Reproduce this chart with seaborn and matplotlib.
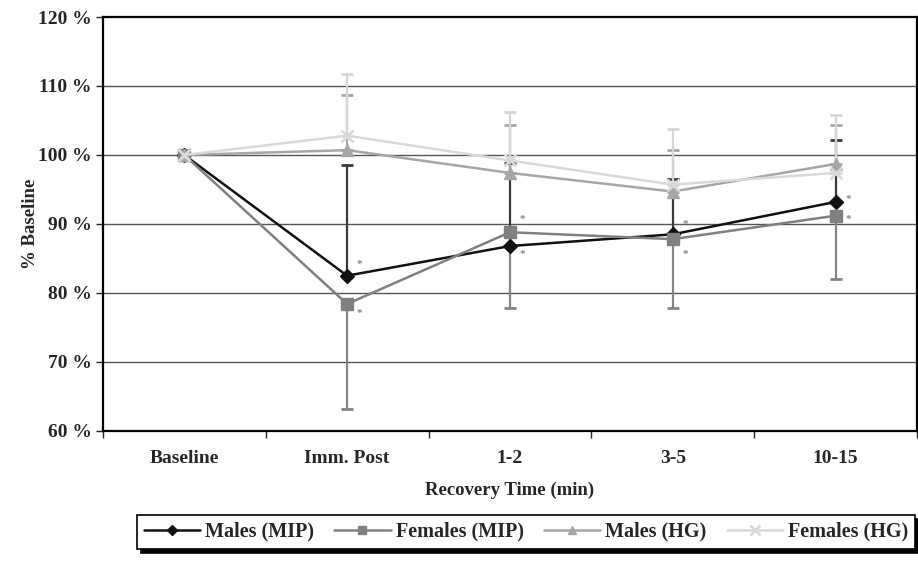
import numpy as np
import pandas as pd
import seaborn as sns
import matplotlib.pyplot as plt

categories = ["Baseline", "Imm. Post", "1-2", "3-5", "10-15"]

males_mip = [100, 82.5, 86.8, 88.5, 93.2]
males_mip_upper = [100, 98.5, 98.8, 96.5, 102.2]
females_mip = [100, 78.4, 88.8, 87.8, 91.2]
females_mip_lower = [100, 63.2, 77.8, 77.8, 82.0]
males_hg = [100, 100.7, 97.4, 94.7, 98.7]
males_hg_upper = [100, 108.7, 104.4, 100.7, 104.4]
females_hg = [100, 102.8, 99.2, 95.7, 97.4]
females_hg_upper = [100, 111.7, 106.2, 103.7, 105.8]

series_names = ["Males (MIP)", "Females (MIP)", "Males (HG)", "Females (HG)"]
ytick_vals = [60, 70, 80, 90, 100, 110, 120]

sns.set_style("white")
plt.rcParams['font.family'] = ['Liberation Serif', 'DejaVu Serif']
plt.rcParams['font.weight'] = 'bold'

fig = plt.figure(figsize=(9.18, 5.67), dpi=100)
ax = fig.add_axes([0.112, 0.240, 0.887, 0.730])

x = np.arange(len(categories))

# gridlines
for v in ytick_vals[1:-1]:
    ax.axhline(v, color="#555555", lw=1.0, zorder=0)

# one sided error bars, like the original
def err_up(vals, upper):
    return [np.zeros(len(vals) - 1), np.array(upper[1:]) - np.array(vals[1:])]

def err_down(vals, lower):
    return [np.array(vals[1:]) - np.array(lower[1:]), np.zeros(len(vals) - 1)]

eb = dict(fmt="none", elinewidth=1.6, capsize=4.5, capthick=2, zorder=2)
ax.errorbar(x[1:], males_mip[1:], yerr=err_up(males_mip, males_mip_upper), ecolor="#3a3a3a", **eb)
ax.errorbar(x[1:], females_mip[1:], yerr=err_down(females_mip, females_mip_lower), ecolor="#858585", **eb)
ax.errorbar(x[1:], males_hg[1:], yerr=err_up(males_hg, males_hg_upper), ecolor="#a8a8a8", **eb)
ax.errorbar(x[1:], females_hg[1:], yerr=err_up(females_hg, females_hg_upper), ecolor="#d6d6d6", **eb)

df = pd.DataFrame({
    "time": categories * 4,
    "x": list(x) * 4,
    "value": males_mip + females_mip + males_hg + females_hg,
    "series": np.repeat(series_names, len(categories)),
})

styles = {
    "Males (MIP)": dict(color="#111111", marker="D", ms=7),
    "Females (MIP)": dict(color="#808080", marker="s", ms=8),
    "Males (HG)": dict(color="#a6a6a6", marker="^", ms=8),
    "Females (HG)": dict(color="#d9d9d9", marker="x", ms=9),
}

for i, name in enumerate(series_names):
    st = styles[name]
    sub = df[df["series"] == name]
    sns.lineplot(data=sub, x="x", y="value", ax=ax, color=st["color"], lw=1.8,
                 marker=st["marker"], markersize=st["ms"], markeredgecolor=st["color"],
                 markerfacecolor=st["color"], markeredgewidth=2 if st["marker"] == "x" else 1,
                 label=name, zorder=3 + i)

# significance asterisks (index, value, y offset in points)
stars = [
    (1, males_mip[1], 8), (1, females_mip[1], -7),
    (2, females_mip[2], 9), (2, males_mip[2], -6),
    (3, males_mip[3], 7), (3, females_mip[3], -11),
    (4, males_mip[4], 2), (4, females_mip[4], -3),
]
for i, v, dy in stars:
    ax.annotate("*", (x[i], v), xytext=(9, dy), textcoords="offset points",
                ha="center", va="center", fontsize=8, color="#888888")

ax.set_xlim(-0.5, 4.5)
ax.set_ylim(60, 120)
ax.set_yticks(ytick_vals)
ax.set_yticklabels([f"{v} %" for v in ytick_vals])
ax.set_xticks(x)
ax.set_xticklabels(categories)
ax.set_xticks(np.arange(-0.5, 5, 1), minor=True)
ax.tick_params(axis="x", which="major", length=0, pad=14, labelsize=14)
ax.tick_params(axis="x", which="minor", length=5, width=1, direction="out", bottom=True)
ax.tick_params(axis="y", length=5, width=1, direction="out", left=True, labelsize=14, pad=3)
for lab in ax.get_xticklabels() + ax.get_yticklabels():
    lab.set_fontweight("bold")

ax.set_xlabel("Recovery Time (min)", fontsize=13.5, fontweight="bold", labelpad=10)
ax.set_ylabel("% Baseline", fontsize=13.5, fontweight="bold", labelpad=-1)

for s in ax.spines.values():
    s.set_color("black")
    s.set_linewidth(1.6)

handles, labels = ax.get_legend_handles_labels()
ax.get_legend().remove()
leg = fig.legend(handles, labels, loc="center", bbox_to_anchor=(0.573, 0.062), ncol=4,
                 frameon=True, shadow={"color": "black", "alpha": 1, "ox": 3, "oy": -3},
                 fancybox=False, handlelength=2.8, handletextpad=0.25, columnspacing=1.0,
                 markerscale=0.8, borderpad=0.35, borderaxespad=0,
                 prop={"weight": "bold", "size": 14.5})
leg.get_frame().set_edgecolor("black")
leg.get_frame().set_linewidth(1.2)

fig.savefig("out.png", dpi=100)
